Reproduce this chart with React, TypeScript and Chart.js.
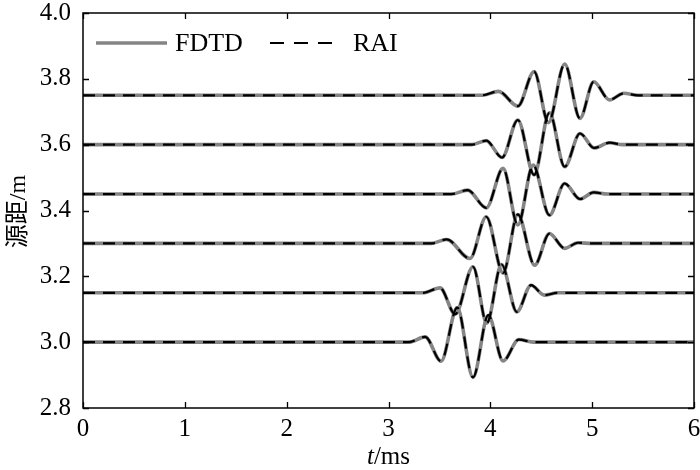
import React, { useEffect, useRef } from "react";
import { Chart, registerables } from "chart.js";
Chart.register(...registerables);

// axis ticks
const X_TICKS = [0, 1, 2, 3, 4, 5, 6];
const Y_TICKS = [2.8, 3.0, 3.2, 3.4, 3.6, 3.8, 4.0];
const SERIES_NAMES = ["FDTD", "RAI"];
const X_TITLE_ITALIC = "t";
const X_TITLE_REST = "/ms";
const Y_TITLE = "源距/m";

// traces (time in ms, value = source distance + waveform)
const T_300 = [0, 3.2, 3.36, 3.516, 3.675, 3.83, 3.98, 4.125, 4.28, 4.42, 6];
const V_300 = [3.0, 3.0, 3.016, 2.942, 3.105, 2.893, 3.082, 2.943, 3.008, 3.0, 3.0];

const T_315 = [0, 3.34, 3.506, 3.655, 3.83, 3.965, 4.11, 4.26, 4.4, 4.53, 4.66, 6];
const V_315 = [3.15, 3.15, 3.165, 3.085, 3.229, 3.058, 3.236, 3.092, 3.173, 3.143, 3.15, 3.15];

const T_330 = [0, 3.42, 3.57, 3.8, 3.96, 4.125, 4.27, 4.435, 4.58, 4.73, 4.86, 5.0, 6];
const V_330 = [3.3, 3.3, 3.312, 3.254, 3.381, 3.21, 3.388, 3.234, 3.33, 3.285, 3.302, 3.3, 3.3];

const T_345 = [0, 3.62, 3.776, 3.96, 4.125, 4.27, 4.42, 4.58, 4.73, 4.88, 5.015, 5.15, 6];
const V_345 = [3.45, 3.45, 3.462, 3.408, 3.528, 3.356, 3.538, 3.386, 3.482, 3.435, 3.455, 3.45, 3.45];

const T_360 = [0, 3.815, 3.96, 4.115, 4.27, 4.43, 4.58, 4.73, 4.88, 5.02, 5.17, 5.3, 6];
const V_360 = [3.6, 3.6, 3.612, 3.561, 3.675, 3.508, 3.697, 3.533, 3.634, 3.59, 3.606, 3.6, 3.6];

const T_375 = [0, 3.92, 4.08, 4.27, 4.43, 4.57, 4.73, 4.88, 5.015, 5.17, 5.31, 5.45, 6];
const V_375 = [3.75, 3.75, 3.762, 3.717, 3.822, 3.667, 3.845, 3.68, 3.791, 3.736, 3.756, 3.75, 3.75];

const TRACES: [number[], number[]][] = [
  [T_300, V_300],
  [T_315, V_315],
  [T_330, V_330],
  [T_345, V_345],
  [T_360, V_360],
  [T_375, V_375],
];

const SERIF = "'Liberation Serif', 'Times New Roman', serif";
const GRAY = "#858585";

const framePlugin = {
  id: "framePlugin",
  afterDraw(chart: any) {
    const { ctx, chartArea: a, scales } = chart;
    const x = scales.x;
    const y = scales.y;
    ctx.save();
    ctx.strokeStyle = "#000";
    ctx.lineWidth = 1.5;
    ctx.strokeRect(a.left, a.top, a.right - a.left, a.bottom - a.top);
    ctx.lineWidth = 1.3;
    ctx.beginPath();
    X_TICKS.forEach((v) => {
      const p = Math.round(x.getPixelForValue(v)) + 0.5;
      ctx.moveTo(p, a.bottom);
      ctx.lineTo(p, a.bottom - 6);
      ctx.moveTo(p, a.top);
      ctx.lineTo(p, a.top + 6);
    });
    Y_TICKS.forEach((v) => {
      const p = Math.round(y.getPixelForValue(v)) + 0.5;
      ctx.moveTo(a.left, p);
      ctx.lineTo(a.left + 6, p);
      ctx.moveTo(a.right, p);
      ctx.lineTo(a.right - 6, p);
    });
    ctx.stroke();

    // legend
    const ly = 43;
    ctx.lineCap = "butt";
    ctx.strokeStyle = GRAY;
    ctx.lineWidth = 3.5;
    ctx.setLineDash([]);
    ctx.beginPath();
    ctx.moveTo(96, ly);
    ctx.lineTo(167, ly);
    ctx.stroke();
    ctx.strokeStyle = "#000";
    ctx.lineWidth = 2.2;
    ctx.setLineDash([14, 10]);
    ctx.beginPath();
    ctx.moveTo(270, ly);
    ctx.lineTo(332, ly);
    ctx.stroke();
    ctx.setLineDash([]);
    ctx.fillStyle = "#000";
    ctx.font = `26px ${SERIF}`;
    ctx.textBaseline = "middle";
    ctx.textAlign = "left";
    ctx.fillText(SERIES_NAMES[0], 175, ly + 1);
    ctx.fillText(SERIES_NAMES[1], 353, ly + 1);

    // x title
    ctx.textBaseline = "alphabetic";
    ctx.font = `italic 25px ${SERIF}`;
    const w1 = ctx.measureText(X_TITLE_ITALIC).width;
    ctx.font = `25px ${SERIF}`;
    const w2 = ctx.measureText(X_TITLE_REST).width;
    const cx = (a.left + a.right) / 2;
    const sx = cx - (w1 + w2) / 2;
    ctx.font = `italic 25px ${SERIF}`;
    ctx.fillText(X_TITLE_ITALIC, sx, 464);
    ctx.font = `25px ${SERIF}`;
    ctx.fillText(X_TITLE_REST, sx + w1, 464);

    // y title
    ctx.save();
    ctx.translate(19, (a.top + a.bottom) / 2 + 1);
    ctx.rotate(-Math.PI / 2);
    ctx.font = `24px ${SERIF}, 'Noto Sans CJK SC'`;
    ctx.textAlign = "center";
    ctx.textBaseline = "middle";
    ctx.fillText(Y_TITLE, 0, 0);
    ctx.restore();
    ctx.restore();
  },
};

export default function App() {
  const ref = useRef<HTMLCanvasElement | null>(null);
  useEffect(() => {
    document.body.style.margin = "0";
    const canvas = ref.current!;
    const datasets: any[] = [];
    TRACES.forEach(([ts, vs]) => {
      const pts = ts.map((t, k) => ({ x: t, y: vs[k] }));
      datasets.push({
        label: SERIES_NAMES[1],
        data: pts,
        borderColor: "#000",
        borderWidth: 2.2,
        borderDash: [12, 8],
        pointRadius: 0,
        cubicInterpolationMode: "monotone",
        fill: false,
        order: 0,
      });
      datasets.push({
        label: SERIES_NAMES[0],
        data: pts,
        borderColor: GRAY,
        borderWidth: 3.6,
        pointRadius: 0,
        cubicInterpolationMode: "monotone",
        fill: false,
        order: 1,
      });
    });
    const chart = new Chart(canvas, {
      type: "line",
      data: { datasets },
      options: {
        responsive: false,
        animation: false,
        events: [],
        layout: { padding: { top: 13, right: 6, left: 0, bottom: 0 } },
        plugins: { legend: { display: false }, tooltip: { enabled: false } },
        scales: {
          x: {
            type: "linear",
            min: 0,
            max: 6,
            grid: { display: false, drawTicks: false },
            border: { display: false },
            ticks: {
              stepSize: 1,
              padding: 6,
              color: "#000",
              font: { family: SERIF, size: 25 },
              maxRotation: 0,
              callback: (v: any) => String(v),
            },
            afterFit: (s: any) => {
              s.height = 62;
              s.paddingLeft = 0;
              s.paddingRight = 0;
            },
          },
          y: {
            type: "linear",
            min: 2.8,
            max: 4.0,
            grid: { display: false, drawTicks: false },
            border: { display: false },
            ticks: {
              stepSize: 0.2,
              padding: 12,
              color: "#000",
              font: { family: SERIF, size: 25 },
              callback: (v: any) => Number(v).toFixed(1),
            },
            afterFit: (s: any) => {
              s.width = 83;
              s.paddingTop = 0;
              s.paddingBottom = 0;
            },
          },
        },
      },
      plugins: [framePlugin],
    });
    return () => chart.destroy();
  }, []);
  return <canvas ref={ref} width={700} height={470} style={{ display: "block" }} />;
}
